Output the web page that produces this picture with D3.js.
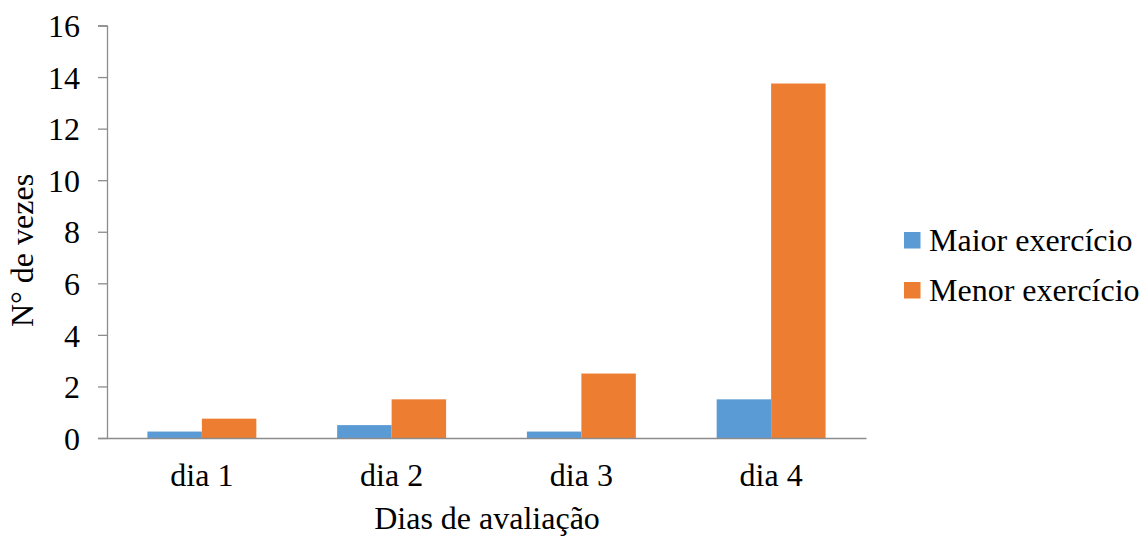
<!DOCTYPE html>
<html>
<head>
<meta charset="utf-8">
<script src="https://cdn.jsdelivr.net/npm/d3@7"></script>
<style>
  html, body { margin: 0; padding: 0; background: #fff; }
</style>
</head>
<body>
<svg id="chart" width="1148" height="536"></svg>
<script>
const categories = ["dia 1", "dia 2", "dia 3", "dia 4"];
const seriesNames = ["Maior exercício", "Menor exercício"];
const maiorValues = [0.25, 0.5, 0.25, 1.5];
const menorValues = [0.75, 1.5, 2.5, 13.75];
const yTicks = [0, 2, 4, 6, 8, 10, 12, 14, 16];
const colors = ["#5B9BD5", "#ED7D31"];

const FONT = "'Liberation Serif', 'Times New Roman', 'DejaVu Serif', serif";
const FS = 32;

const svg = d3.select("#chart");
const W = 1148, H = 536;
const x0 = 107, x1 = 866;
const yTop = 25.5, yBot = 438;

const x = d3.scaleBand().domain(categories).range([x0, x1]);
const xs = d3.scaleBand().domain(seriesNames).range([0, x.bandwidth()])
  .paddingInner(0).paddingOuter(0.742);
const y = d3.scaleLinear().domain([0, 16]).range([yBot, yTop]);

const axisColor = "#8c8c8c";

function styleText(sel) {
  sel.attr("font-family", FONT).style("font-family", FONT)
     .style("font-size", FS + "px").attr("fill", "#000");
}

// y axis
const yAxis = svg.append("g").attr("transform", `translate(${x0},0)`)
  .call(d3.axisLeft(y).tickValues(yTicks).tickSize(9).tickPadding(18).tickFormat(d3.format("d")));
yAxis.attr("font-family", FONT);
yAxis.select(".domain").attr("stroke", axisColor).attr("stroke-width", 1.3);
yAxis.selectAll(".tick line").attr("stroke", axisColor).attr("stroke-width", 1.3);
yAxis.selectAll(".tick text").call(styleText).attr("dy", "0.35em");

// bars
const data = categories.map((c, i) => ({ cat: c, vals: [maiorValues[i], menorValues[i]] }));
const groups = svg.append("g").selectAll("g").data(data).join("g")
  .attr("transform", d => `translate(${x(d.cat)},0)`);
groups.selectAll("rect").data(d => d.vals.map((v, j) => ({ v, s: seriesNames[j], j })))
  .join("rect")
  .attr("x", d => xs(d.s))
  .attr("width", xs.bandwidth())
  .attr("y", d => y(d.v))
  .attr("height", d => y(0) - y(d.v))
  .attr("fill", d => colors[d.j]);

// x axis
const xAxis = svg.append("g").attr("transform", `translate(0,${yBot})`)
  .call(d3.axisBottom(x).tickSize(0).tickPadding(25).tickSizeOuter(0));
xAxis.attr("font-family", FONT);
xAxis.select(".domain").attr("stroke", axisColor).attr("stroke-width", 1.3);
xAxis.selectAll(".tick text").call(styleText);

// axis titles
svg.append("text").attr("x", 487).attr("y", 529)
  .attr("text-anchor", "middle").call(styleText).text("Dias de avaliação");
svg.append("text").attr("transform", "translate(33,250.5) rotate(-90)")
  .attr("text-anchor", "middle").call(styleText).text("N° de vezes");

// legend
const legend = svg.append("g").selectAll("g").data(seriesNames).join("g")
  .attr("transform", (d, i) => `translate(904,${232 + i * 50})`);
legend.append("rect").attr("width", 16.5).attr("height", 16.5).attr("fill", (d, i) => colors[i]);
legend.append("text").attr("x", 25).attr("y", 18.5).call(styleText).text(d => d);
</script>
</body>
</html>
